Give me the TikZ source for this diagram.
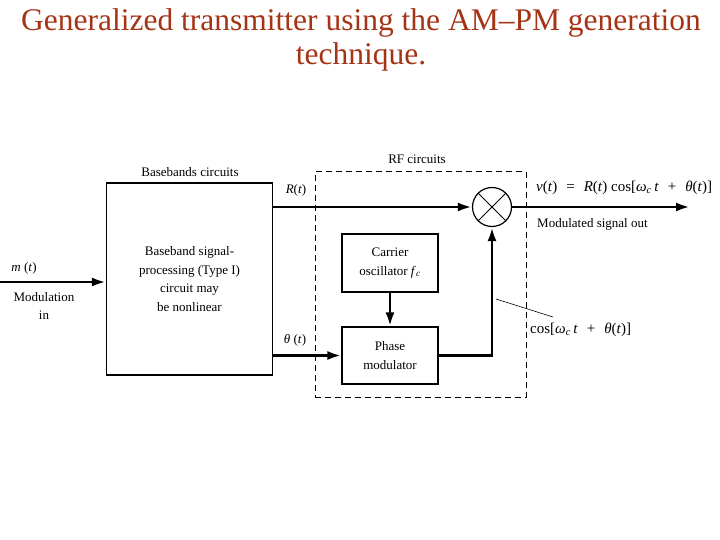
\documentclass[tikz,border=0pt]{standalone}
\usepackage{fontspec}
\setmainfont{Liberation Serif}
\usepackage{tikz}
\usetikzlibrary{arrows.meta,calc,positioning}
\definecolor{titlered}{RGB}{165,52,22}
\newcommand{\iv}[1]{\textit{#1}}
\newcommand{\opgap}{\hspace{9pt}}

\begin{document}
\begin{tikzpicture}[x=1pt,y=-1pt,
  blk/.style={draw,line width=1.2pt,inner sep=0pt,align=center,font=\fontsize{13}{18.5}\selectfont},
  sig/.style={line width=2.8pt,-{Latex[length=14pt,width=9pt]}},
  lbl/.style={font=\fontsize{13}{18}\selectfont,inner sep=0pt,align=center},
  eqn/.style={font=\fontsize{15}{18}\selectfont,inner sep=0pt,anchor=west}]
  \useasboundingbox (0,0) rectangle (720,540);
  \node[titlered,font=\fontsize{31.5}{34}\selectfont,align=center,inner sep=0pt] (title) at (361,40)
    {Generalized transmitter using the AM–PM generation\\technique.};
  % baseband part
  \node[blk,minimum width=166,minimum height=192] (bb) at (189.5,279)
    {Baseband signal-\\processing (Type I)\\circuit may\\be nonlinear};
  \node[lbl] (bbt) at (190,172) {Basebands circuits};
  % RF part
  \node[draw,dashed,dash pattern=on 6pt off 4pt,line width=1pt,minimum width=211,minimum height=225] (rf) at (420.5,284.5) {};
  \node[lbl] (rft) at (417,159) {RF circuits};
  \node[blk,minimum width=96,minimum height=58] (co) at (390,263) {Carrier\\oscillator \iv{f}\textsubscript{\iv{c}}};
  \node[blk,minimum width=96,minimum height=57] (pm) at (390,355.5) {Phase\\modulator};
  \node[draw,circle,line width=1.2pt,minimum size=39,inner sep=0pt] (mix) at (492,207) {};
  \draw[line width=1pt] (mix.north west) -- (mix.south east);
  \draw[line width=1pt] (mix.north east) -- (mix.south west);
  % signals
  \coordinate (min) at (0,282);
  \coordinate (vout) at (690,207);
  \draw[sig] (min) -- (min -| bb.west);
  \draw[sig] (mix -| bb.east) -- (mix.west);
  \draw[sig] (pm.west -| bb.east) -- (pm.west);
  \draw[sig] (co.south) -- (pm.north);
  \draw[sig] (pm.east) -| (mix.south);
  \draw[sig] (mix.east) -- (vout);
  \coordinate (lead1) at (496,299);
  \coordinate (lead2) at (553,317);
  \draw[line width=0.6pt] (lead1) -- (lead2);
  % labels
  \node[lbl] (mt) at (24,268) {\iv{m} (\iv{t})};
  \node[lbl] (modin) at (44,306) {Modulation\\in};
  \node[lbl] (rt) at (296,190) {\iv{R}(\iv{t})};
  \node[lbl] (tht) at (295,340) {\iv{θ} (\iv{t})};
  \node[eqn] (vt) at (536,188) {\iv{v}(\iv{t})\opgap=\opgap\iv{R}(\iv{t}) cos[\iv{ω}\textsubscript{\iv{c}}\,\iv{t}\opgap+\opgap\iv{θ}(\iv{t})]};
  \node[lbl,anchor=west] (mso) at (537,224) {Modulated signal out};
  \node[eqn] (cosl) at (530,330) {cos[\iv{ω}\textsubscript{\iv{c}}\,\iv{t}\opgap+\opgap\iv{θ}(\iv{t})]};
\end{tikzpicture}
\end{document}
